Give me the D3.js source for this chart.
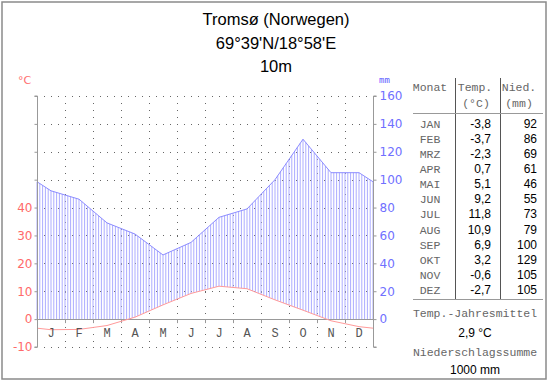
<!DOCTYPE html>
<html><head><meta charset="utf-8">
<script src="https://cdn.jsdelivr.net/npm/d3@7"></script>
<style>body{margin:0;background:#fff}svg{display:block}</style>
</head><body>
<script>
const months = ["J","F","M","A","M","J","J","A","S","O","N","D"];
const monthNames = ["JAN","FEB","MRZ","APR","MAI","JUN","JUL","AUG","SEP","OKT","NOV","DEZ"];
const temps = [-3.8,-3.7,-2.3,0.7,5.1,9.2,11.8,10.9,6.9,3.2,-0.6,-2.7];
const precip = [92,86,69,61,46,55,73,79,100,129,105,105];
const tempTicks = [-10,0,10,20,30,40];
const precipTicks = [0,20,40,60,80,100,120,140,160];
const titleLines = ["Tromsø (Norwegen)","69°39'N/18°58'E","10m"];
const meanTemp = "2,9 °C";
const totalPrecip = "1000 mm";

const W=550,H=382;
const svg=d3.select("body").append("svg").attr("width",W).attr("height",H);
svg.append("rect").attr("x",2).attr("y",2).attr("width",544).attr("height",377)
  .attr("fill","#fff").attr("stroke","#8a8a8a").attr("stroke-width",1.5);

const L=37,R=373,T=96,B=347;
const x=d3.scaleLinear().domain([0,12]).range([L,R]);
const yT=d3.scaleLinear().domain([-10,80]).range([B,T]);
const yP=d3.scaleLinear().domain([-20,160]).range([B,T]);

// title
svg.selectAll("text.title").data(titleLines).join("text")
  .attr("x",276).attr("y",(d,i)=>25+i*23.7).attr("text-anchor","middle")
  .attr("font-family","Liberation Sans, Arial, sans-serif").attr("font-size",16.5).attr("fill","#000").text(d=>d);

// grid
const grid=svg.append("g").attr("stroke","#666").attr("stroke-width",1).attr("stroke-dasharray","1,6");
d3.range(-10,81,10).forEach(v=>{ if(v!==0) grid.append("line").attr("x1",L+7).attr("x2",R).attr("y1",Math.round(yT(v))+0.5).attr("y2",Math.round(yT(v))+0.5); });
d3.range(1,12).forEach(m=>{ grid.append("line").attr("x1",Math.round(x(m))+0.5).attr("x2",Math.round(x(m))+0.5).attr("y1",T+7).attr("y2",B); });

// interpolation helpers (cyclic, at month centres)
function interp(arr,xv){
  const pos=xv-0.5; const i0=Math.floor(pos); const f=pos-i0;
  const a=arr[(i0+12)%12], b=arr[(i0+1+12)%12];
  return a+(b-a)*f;
}
// hatching
const hatch=svg.append("g").attr("stroke","#adadff").attr("stroke-width",1);
const step=12/120;
for(let k=0;k<=120;k++){
  const xv=k*step;
  const p=interp(precip,xv), t=interp(temps,xv);
  const lowT=Math.max(t,0);
  const y1=yT(lowT), y2=yP(p);
  if(y2<y1) hatch.append("line").attr("x1",x(xv)).attr("x2",x(xv)).attr("y1",y1).attr("y2",y2);
}

// zero line
svg.append("line").attr("x1",L).attr("x2",R).attr("y1",Math.round(yT(0))+0.5).attr("y2",Math.round(yT(0))+0.5).attr("stroke","#999");
d3.range(1,12).forEach(m=>svg.append("line").attr("x1",Math.round(x(m))+0.5).attr("x2",Math.round(x(m))+0.5)
  .attr("y1",yT(0)).attr("y2",yT(0)+4).attr("stroke","#999"));

// lines
const pts=(arr)=>{const e=(arr[0]+arr[11])/2; return [[0,e]].concat(arr.map((v,i)=>[i+0.5,v])).concat([[12,e]]);};
svg.append("path").datum(pts(precip)).attr("fill","none").attr("stroke","#8c8cff").attr("stroke-width",1)
  .attr("d",d3.line().x(d=>x(d[0])).y(d=>yP(d[1])));
svg.append("path").datum(pts(temps)).attr("fill","none").attr("stroke","#ff9a9a").attr("stroke-width",1)
  .attr("d",d3.line().x(d=>x(d[0])).y(d=>yT(d[1])));

// axes
const axL=svg.append("g").attr("transform",`translate(${L+0.5},0)`)
  .call(d3.axisLeft(yT).tickValues(d3.range(-10,81,10)).tickSize(3).tickFormat(d=>tempTicks.includes(d)?String(d):""));
const axR=svg.append("g").attr("transform",`translate(${R+0.5},0)`)
  .call(d3.axisRight(yP).tickValues(d3.range(-20,161,20)).tickSize(3).tickFormat(d=>precipTicks.includes(d)?String(d):""));
[axL,axR].forEach(a=>{a.select(".domain").attr("stroke","#999");a.selectAll(".tick line").attr("stroke","#999");
  a.selectAll("text").attr("font-family","DejaVu Sans, sans-serif").attr("font-size",12);});
axL.select(".domain").attr("d",`M-3,${T}H0V${B}H-3`);
axR.select(".domain").attr("d",`M3,${T}H0V${B}H3`);
axL.selectAll("text").attr("fill","#ff6a6a").attr("x",-5);
axR.selectAll("text").attr("fill","#7070ff").attr("x",6);

svg.append("text").attr("x",18).attr("y",84).attr("font-family","DejaVu Sans, sans-serif").attr("font-size",11).attr("fill","#ff7070").text("°C");
svg.append("text").attr("x",379).attr("y",83).attr("font-family","DejaVu Sans Mono, monospace").attr("font-size",9).attr("fill","#6060ff").text("mm");

// month labels
svg.selectAll("text.mon").data(months).join("text").attr("class","mon")
  .attr("x",(d,i)=>x(i+0.5)).attr("y",337).attr("text-anchor","middle")
  .attr("font-family","Liberation Mono, Courier New, monospace").attr("font-size",12).attr("fill","#555").text(d=>d);

// table
const mono="Liberation Mono, Courier New, monospace", sans="Liberation Sans, Arial, sans-serif";
const tb=svg.append("g");
tb.append("line").attr("x1",455.5).attr("x2",455.5).attr("y1",78).attr("y2",299).attr("stroke","#555");
tb.append("line").attr("x1",500.5).attr("x2",500.5).attr("y1",78).attr("y2",299).attr("stroke","#555");
tb.append("line").attr("x1",413).attr("x2",543).attr("y1",113.5).attr("y2",113.5).attr("stroke","#999");
tb.append("line").attr("x1",413).attr("x2",543).attr("y1",299.5).attr("y2",299.5).attr("stroke","#999");
const hdr=[["Monat",430,91],["Temp.",475,91],["Nied.",519,91],["(°C)",476,107],["(mm)",519,107]];
hdr.forEach(h=>tb.append("text").attr("x",h[1]).attr("y",h[2]).attr("text-anchor","middle")
  .attr("font-family",mono).attr("font-size",11.5).attr("fill","#666").text(h[0]));
const fmt=v=>v.toFixed(1).replace(".",",");
monthNames.forEach((m,i)=>{
  const yy=127.5+i*15.15;
  tb.append("text").attr("x",430).attr("y",yy).attr("text-anchor","middle").attr("font-family",mono).attr("font-size",11.5).attr("fill","#666").text(m);
  tb.append("text").attr("x",491).attr("y",yy).attr("text-anchor","end").attr("font-family",sans).attr("font-size",12).attr("fill","#000").text(fmt(temps[i]));
  tb.append("text").attr("x",537).attr("y",yy).attr("text-anchor","end").attr("font-family",sans).attr("font-size",12).attr("fill","#000").text(precip[i]);
});
[["Temp.-Jahresmittel",475,317,mono,"#666",11.5],[meanTemp,475,337,sans,"#000",12],
 ["Niederschlagssumme",475,356,mono,"#666",11.5],[totalPrecip,475,374,sans,"#000",12]].forEach(f=>
  tb.append("text").attr("x",f[1]).attr("y",f[2]).attr("text-anchor","middle").attr("font-family",f[3]).attr("fill",f[4]).attr("font-size",f[5]).text(f[0]));
</script>
</body></html>
